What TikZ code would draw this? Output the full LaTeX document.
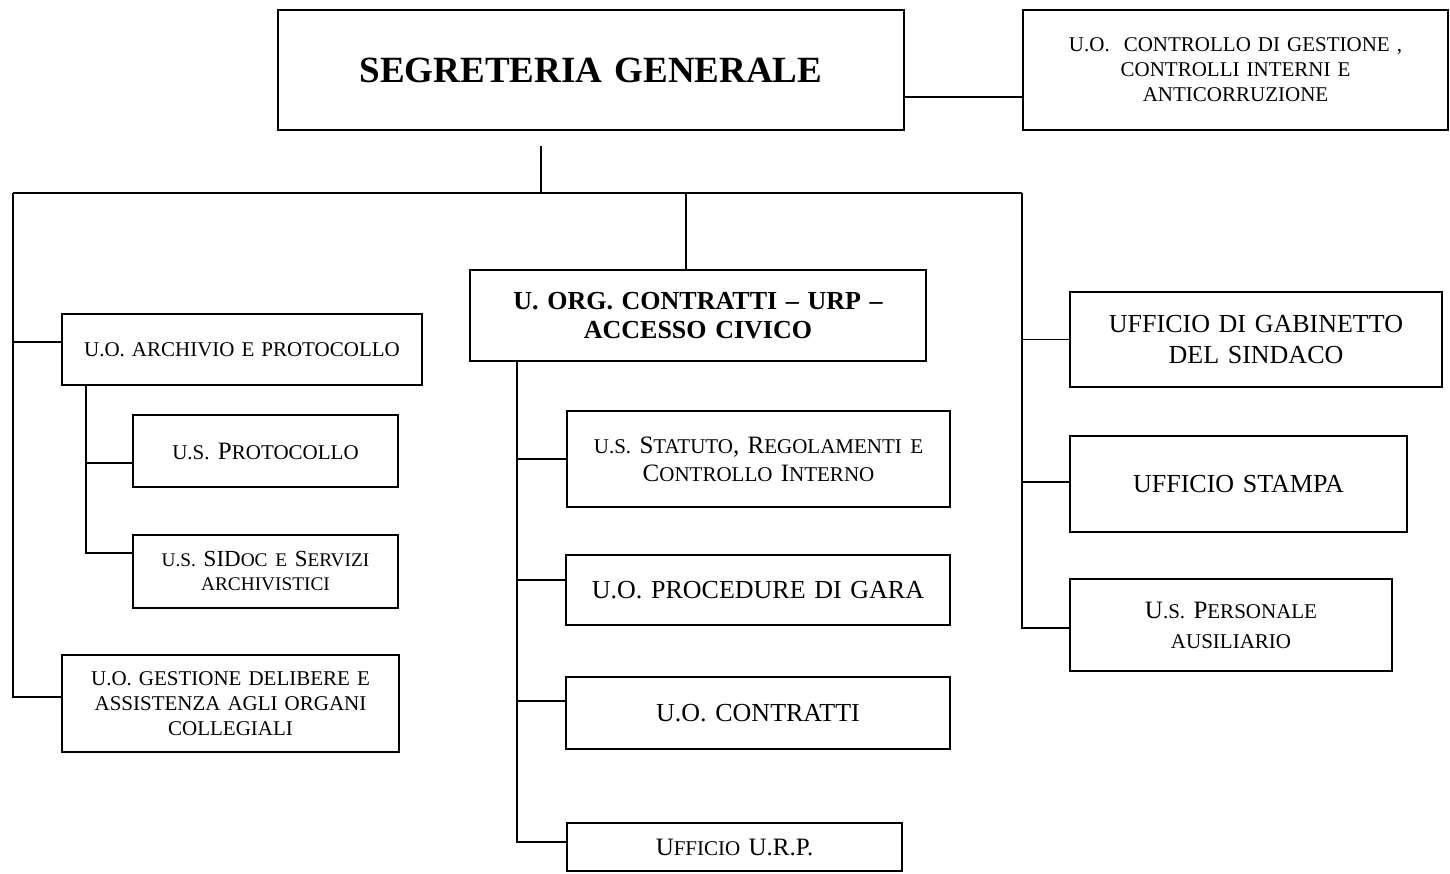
\documentclass[tikz,border=0pt]{standalone}
\usepackage{fontspec}
\setmainfont{Liberation Serif}
\makeatletter
\newcommand\smcap[1]{{\fontsize{\fpeval{0.84*\f@size}}{\f@baselineskip}\selectfont #1}}
\makeatother
\tikzset{
  box/.style 2 args={draw, line width=1.6pt, inner sep=0pt, align=center,
    minimum width=#1, minimum height=#2, text width=#1-8},
  lift/.style={execute at end node={\par\vskip#1pt}},
  link/.style={line width=1.6pt},
}
\begin{document}
\begin{tikzpicture}[x=1pt, y=-1pt]
	\useasboundingbox (0,0) rectangle (1450,874);
	%--top row
	\node[box={626}{120}, font=\fontsize{37}{44}\selectfont\bfseries] (seg) at (591,70) {SEGRETERIA GENERALE};
	\node[box={425}{120}, lift=14, font=\fontsize{21}{25}\selectfont] (ctrl) at (1235.5,70)
		{U.O.~ CONTROLLO DI GESTIONE ,\\ CONTROLLI INTERNI E\\ ANTICORRUZIONE};
	%--left column
	\node[box={360}{71}, lift=8, font=\fontsize{21}{25}\selectfont] (arch) at (242,349.5) {U.O. ARCHIVIO E PROTOCOLLO};
	\node[box={265}{72}, lift=16, font=\fontsize{25}{28}\selectfont] (proto) at (265.5,451) {\smcap{U.S.} P\smcap{ROTOCOLLO}};
	\node[box={265}{73}, lift=-6, font=\fontsize{23}{24}\selectfont] (sidoc) at (265.5,571.5)
		{\smcap{U.S.} SID\smcap{OC E} S\smcap{ERVIZI}\\ \smcap{ARCHIVISTICI}};
	\node[box={337}{97}, font=\fontsize{21}{25}\selectfont] (delib) at (230.5,703.5)
		{U.O. GESTIONE DELIBERE E\\ ASSISTENZA AGLI ORGANI\\ COLLEGIALI};
	%--centre column
	\node[box={456}{91}, lift=8, font=\fontsize{26}{29}\selectfont\bfseries] (urp) at (698,315.5)
		{U. ORG. CONTRATTI -- URP --\\ ACCESSO CIVICO};
	\node[box={383}{96}, lift=14, font=\fontsize{25}{28}\selectfont] (stat) at (758.5,459)
		{\smcap{U.S.} S\smcap{TATUTO}, R\smcap{EGOLAMENTI E}\\ C\smcap{ONTROLLO} I\smcap{NTERNO}};
	\node[box={384}{70}, lift=18, font=\fontsize{26}{30}\selectfont] (proc) at (758,590) {U.O. PROCEDURE DI GARA};
	\node[box={384}{72}, lift=-18, font=\fontsize{26}{30}\selectfont] (contr) at (758,713) {U.O. CONTRATTI};
	\node[box={335}{48}, font=\fontsize{25}{28}\selectfont] (uurp) at (734.5,847) {U\smcap{FFICIO} U.R.P.};
	%--right column
	\node[box={372}{95}, lift=12, font=\fontsize{26}{31}\selectfont] (gab) at (1256,339.5)
		{UFFICIO DI GABINETTO\\ DEL SINDACO};
	\node[box={337}{96}, lift=-5, font=\fontsize{26}{30}\selectfont] (stampa) at (1238.5,484) {UFFICIO STAMPA};
	\node[box={322}{92}, lift=8, font=\fontsize{25}{30}\selectfont] (pers) at (1231,625)
		{U\smcap{.S.} P\smcap{ERSONALE}\\ \smcap{AUSILIARIO}};

	%--joints
	\coordinate (stem) at (541,146);
	\coordinate (busL) at (13,193);
	\coordinate (busM) at (686,193);
	\coordinate (busR) at (1022,193);
	\coordinate (sub) at (86,385);
	\coordinate (trunk) at (517,361);
	\coordinate (ctrlJ) at ([yshift=-27pt]seg.east);
	\coordinate (archJ) at ([yshift=7.5pt]arch.west);
	\coordinate (delibJ) at ([yshift=6.5pt]delib.west);
	\coordinate (protoJ) at ([yshift=-12pt]proto.west);
	\coordinate (sidocJ) at ([yshift=18.5pt]sidoc.west);
	\coordinate (procJ) at ([yshift=10pt]proc.west);
	\coordinate (contrJ) at ([yshift=12pt]contr.west);
	\coordinate (uurpJ) at ([yshift=5pt]uurp.west);
	\coordinate (stampaJ) at ([yshift=2pt]stampa.west);
	\coordinate (persJ) at ([yshift=-3pt]pers.west);

	%--connectors
	\draw[link] (ctrlJ) -- (ctrlJ -| ctrl.west);
	\draw[link] (stem) -- (stem |- busL);
	\draw[link] (busL) -- (busR);
	\draw[link] (busM) -- (busM |- urp.north);
	\draw[link] (busL) |- (delibJ);
	\draw[link] (busL |- archJ) -- (archJ);
	\draw[link] (sub) |- (sidocJ);
	\draw[link] (sub |- protoJ) -- (protoJ);
	\draw[link] (trunk) |- (uurpJ);
	\foreach \j in {stat.west, procJ, contrJ}
		\draw[link] (trunk |- \j) -- (\j);
	\draw[link] (busR) |- (persJ);
	\foreach \j in {gab.west, stampaJ}
		\draw[link] (busR |- \j) -- (\j);
\end{tikzpicture}
\end{document}
